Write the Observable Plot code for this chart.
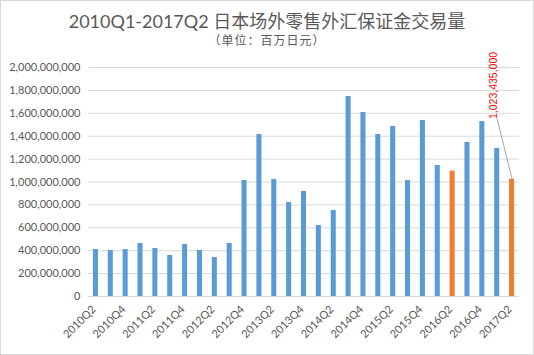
<!DOCTYPE html>
<html>
<head>
<meta charset="utf-8">
<script src="https://cdn.jsdelivr.net/npm/d3@7"></script>
<script src="https://cdn.jsdelivr.net/npm/@observablehq/plot@0.6"></script>
<style>
  html, body { margin: 0; padding: 0; background: #fff; }
  #wrap { position: relative; width: 534px; height: 355px; overflow: hidden; background: #fff; }
  #frame { position: absolute; left: 0; top: 0; width: 534px; height: 355px; box-sizing: border-box; border: 1px solid #d9d9d9; pointer-events: none; }
  #title { position: absolute; left: 0; top: 8px; width: 534px; text-align: center; font-family: Lato, "Noto Sans CJK SC", sans-serif; font-size: 18px; color: #595959; line-height: 26px; z-index: 2; }
  #subtitle { position: absolute; left: 0; top: 32px; width: 534px; text-align: center; font-family: "Noto Sans CJK SC", sans-serif; font-size: 12px; color: #595959; line-height: 16px; letter-spacing: 1px; z-index: 2; }
  #chart { position: absolute; left: 0; top: 40px; }
  #chart svg { overflow: visible; }
</style>
</head>
<body>
<div id="wrap">
  <div id="chart"></div>
  <div id="title">2010Q1-2017Q2 日本场外零售外汇保证金交易量</div>
  <div id="subtitle">（单位：百万日元）</div>
  <div id="frame"></div>
</div>
<script>
const quarters = [
  "2010Q2","2010Q3","2010Q4",
  "2011Q1","2011Q2","2011Q3","2011Q4",
  "2012Q1","2012Q2","2012Q3","2012Q4",
  "2013Q1","2013Q2","2013Q3","2013Q4",
  "2014Q1","2014Q2","2014Q3","2014Q4",
  "2015Q1","2015Q2","2015Q3","2015Q4",
  "2016Q1","2016Q2","2016Q3","2016Q4",
  "2017Q1","2017Q2"
];
const volumes = [
  410e6, 402e6, 410e6,
  463e6, 419e6, 358e6, 454e6,
  402e6, 341e6, 463e6, 1013e6,
  1415e6, 1022e6, 821e6, 917e6,
  620e6, 751e6, 1747e6, 1607e6,
  1415e6, 1485e6, 1013e6, 1537e6,
  1144e6, 1095e6, 1345e6, 1528e6,
  1293e6, 1023435000
];
const highlighted = ["2016Q2", "2017Q2"];
const yTicks = [0, 2e8, 4e8, 6e8, 8e8, 1e9, 1.2e9, 1.4e9, 1.6e9, 1.8e9, 2e9];
const xTickLabels = quarters.filter((d, i) => i % 2 === 0);
const annotationLabel = "1,023,435,000";
const annotationFrom = { q: "2017Q1", v: 1.55e9 };
const annotationTo = { q: "2017Q2", v: 1023435000 };

const data = quarters.map((q, i) => ({ q, v: volumes[i], hl: highlighted.includes(q) }));

const chart = Plot.plot({
  width: 534,
  height: 315,
  marginTop: 27,
  marginBottom: 59,
  marginLeft: 88,
  marginRight: 15,
  style: { fontFamily: "Lato, sans-serif", fontSize: "11px", color: "#595959", background: "transparent", overflow: "visible" },
  x: { type: "band", domain: quarters, paddingInner: 0.66, paddingOuter: 0.33, round: false, label: null },
  y: { domain: [0, 2e9], label: null },
  marks: [
    Plot.gridY(yTicks, { stroke: "#d9d9d9", strokeOpacity: 1 }),
    Plot.axisY({ ticks: yTicks, tickSize: 0, tickPadding: 8, tickFormat: d3.format(","), label: null, fill: "#595959" }),
    Plot.axisX({ ticks: xTickLabels, tickSize: 0, tickPadding: 11, tickRotate: -45, label: null, fill: "#595959", dx: -2 }),
    Plot.barY(data, { x: "q", y: "v", fill: d => d.hl ? "#ED7D31" : "#5B9BD5" }),
    Plot.ruleY([0], { stroke: "#d9d9d9" }),
    Plot.link([{ x1: annotationFrom.q, y1: annotationFrom.v, x2: annotationTo.q, y2: annotationTo.v }],
      { x1: "x1", y1: "y1", x2: "x2", y2: "y2", stroke: "#a6a6a6", strokeWidth: 1 }),
    Plot.text([annotationLabel], { x: () => annotationFrom.q, y: () => annotationFrom.v, text: d => d,
      rotate: -90, textAnchor: "start", fill: "#ff0000", fontSize: 10.5, dx: -4, fontFamily: "Liberation Sans, sans-serif" })
  ]
});
document.getElementById("chart").appendChild(chart);
</script>
</body>
</html>
